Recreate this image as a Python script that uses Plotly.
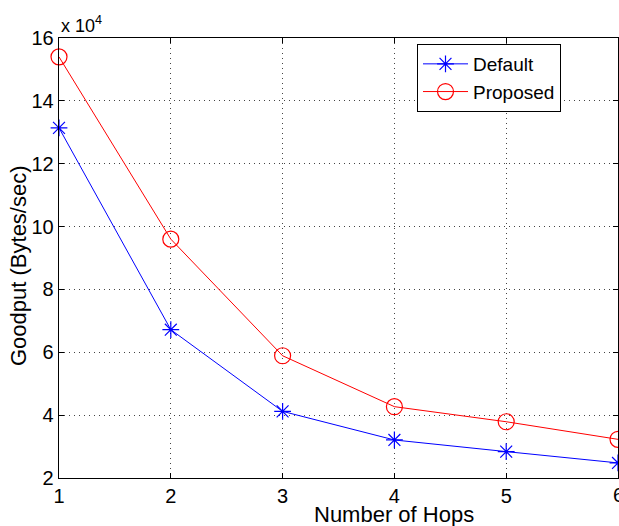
import plotly.graph_objects as go

hops = [1, 2, 3, 4, 5, 6]
default_vals = [13.14, 6.72, 4.12, 3.21, 2.84, 2.48]   # x 10^4 Bytes/sec
proposed_vals = [15.40, 9.60, 5.89, 4.27, 3.79, 3.23]  # x 10^4 Bytes/sec
y_ticks = [2, 4, 6, 8, 10, 12, 14, 16]
x_ticks = [1, 2, 3, 4, 5, 6]

FONT = "Liberation Sans, Arial, Helvetica, sans-serif"

fig = go.Figure()
fig.add_trace(go.Scatter(
    x=hops, y=default_vals, name="Default", mode="lines+markers",
    line=dict(color="#0000ff", width=1),
    marker=dict(symbol="asterisk-open", size=14, color="#0000ff",
                line=dict(color="#0000ff", width=1.2)),
    cliponaxis=False,
))
fig.add_trace(go.Scatter(
    x=hops, y=proposed_vals, name="Proposed", mode="lines+markers",
    line=dict(color="#ff0000", width=1),
    marker=dict(symbol="circle-open", size=16, color="#ff0000",
                line=dict(color="#ff0000", width=1.2)),
    cliponaxis=False,
))

axis_common = dict(
    showline=True, linecolor="black", linewidth=1.3, mirror="ticks",
    ticks="inside", ticklen=5, tickcolor="black",
    showgrid=True, gridcolor="#444444", gridwidth=1, griddash="1px,4px",
    zeroline=False, automargin=False,
    tickfont=dict(family=FONT, size=20, color="black"),
)

fig.update_xaxes(range=[1, 6], tickvals=x_ticks,
                 ticktext=[str(t) for t in x_ticks], **axis_common)
fig.update_yaxes(range=[2, 16], tickvals=y_ticks,
                 ticktext=[str(t) for t in y_ticks], **axis_common)

# last x tick label gets dropped by plotly because it overflows the page edge;
# draw it as an annotation so it is partly visible like in the reference
annotations = [
    dict(text=str(x_ticks[-1]), x=x_ticks[-1], y=0, xref="x", yref="paper",
         xanchor="center", yanchor="top", yshift=-4, showarrow=False,
         font=dict(family=FONT, size=20, color="black")),
    dict(text="Number of Hops", x=(394 - 59) / 559, y=-(514 - 478) / 440,
         xref="paper", yref="paper", xanchor="center", yanchor="middle",
         showarrow=False, font=dict(family=FONT, size=22, color="black")),
    dict(text="Goodput (Bytes/sec)", x=(18 - 59) / 559, y=(478 - 266) / 440,
         xref="paper", yref="paper", xanchor="center", yanchor="middle",
         textangle=-90, showarrow=False,
         font=dict(family=FONT, size=22, color="black")),
    dict(text="x 10<sup>4</sup>", x=0, y=1, xref="paper", yref="paper",
         xanchor="left", yanchor="bottom", showarrow=False, yshift=0,
         font=dict(family=FONT, size=18, color="black")),
]

fig.update_layout(
    width=619, height=526,
    margin=dict(l=59, r=1, t=38, b=48, autoexpand=False),
    paper_bgcolor="white", plot_bgcolor="white",
    font=dict(family=FONT, color="black"),
    showlegend=True,
    legend=dict(
        x=(417 - 59) / 559, y=(478 - 44) / 440, xanchor="left", yanchor="top",
        bordercolor="black", borderwidth=1, bgcolor="white",
        font=dict(family=FONT, size=19, color="black"),
        itemwidth=45, tracegroupgap=0,
    ),
    annotations=annotations,
)

fig.write_html(
    "out.html",
    config={"displayModeBar": False, "staticPlot": True},
    post_script="document.body.style.margin='0';document.body.style.overflow='hidden';",
)
